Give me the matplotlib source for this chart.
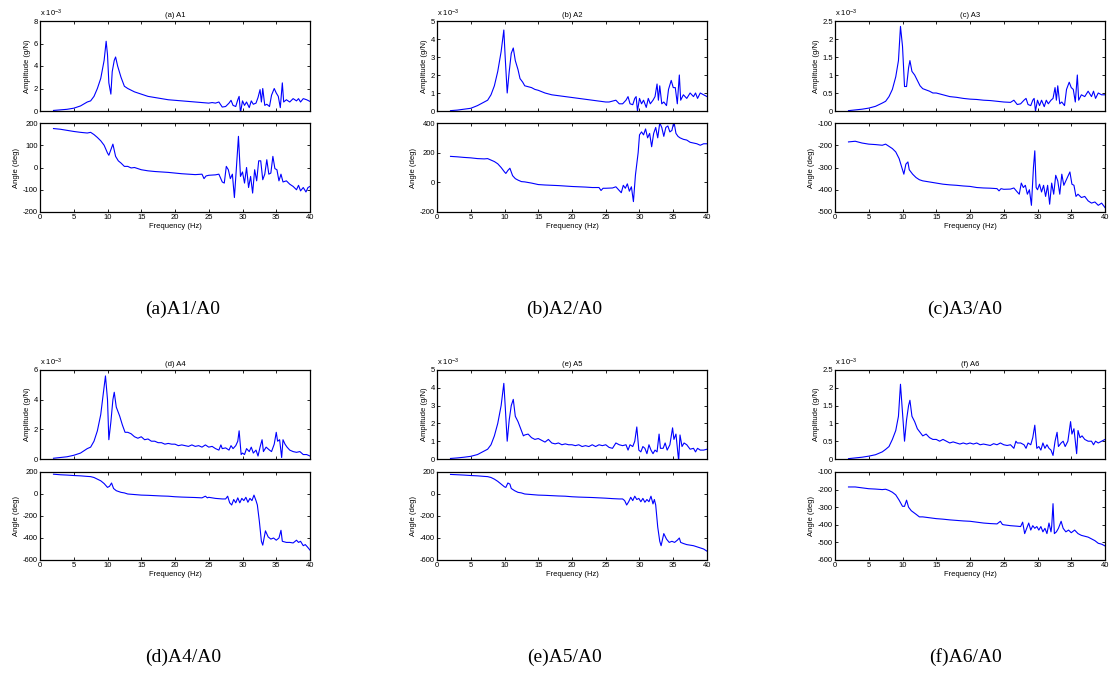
import numpy as np
import matplotlib
matplotlib.use("Agg")
import matplotlib.pyplot as plt

plt.rcParams['font.family'] = ['Liberation Sans', 'DejaVu Sans']
plt.rcParams['axes.unicode_minus'] = False
plt.rcParams['mathtext.default'] = 'regular'

# ---- data: (frequency Hz, value) ----
# amplitudes in units of 1e-3 g/N, angles in deg

a_amp = [(2, 0.05), (3, 0.1), (4, 0.15), (5, 0.25), (6, 0.45), (7, 0.8), (7.5, 0.9), (8, 1.3),
         (8.5, 2.0), (9, 2.9), (9.5, 4.5), (9.8, 6.2), (10.0, 5.0), (10.2, 2.5), (10.5, 1.5),
         (10.7, 3.5), (11.0, 4.5), (11.2, 4.8), (11.5, 4.0), (12, 3.0), (12.5, 2.2), (13, 2.0),
         (14, 1.7), (15, 1.5), (16, 1.3), (17, 1.2), (18, 1.1), (19, 1.0), (20, 0.95), (21, 0.9),
         (22, 0.85), (23, 0.8), (24, 0.75), (25, 0.7), (25.5, 0.75), (26, 0.7), (26.5, 0.8),
         (27, 0.35), (27.5, 0.4), (28, 0.7), (28.3, 0.95), (28.6, 0.5), (29, 0.4), (29.3, 1.0),
         (29.5, 1.3), (29.7, -0.15), (30, 0.9), (30.3, 0.5), (30.6, 0.8), (31, 0.3), (31.3, 0.9),
         (31.6, 0.6), (32, 0.7), (32.3, 1.2), (32.6, 1.9), (32.8, 0.8), (33, 2.0), (33.3, 0.5),
         (33.6, 0.6), (34, 0.4), (34.3, 1.4), (34.7, 2.0), (35, 1.6), (35.3, 1.3), (35.6, 0.3),
         (35.9, 2.5), (36.1, 0.8), (36.5, 1.0), (37, 0.8), (37.5, 1.1), (38, 0.9), (38.3, 1.1),
         (38.6, 0.8), (39, 1.1), (39.5, 1.0), (40, 0.85)]

a_ang = [(2, 175), (3, 172), (4, 167), (5, 162), (6, 158), (7, 155), (7.5, 158), (8, 148),
         (8.5, 135), (9, 120), (9.5, 100), (10, 65), (10.2, 55), (10.5, 80), (10.8, 105),
         (11.2, 50), (11.6, 30), (12, 20), (12.5, 5), (13, 5), (13.5, -2), (14, 0), (15, -10),
         (16, -15), (17, -18), (18, -20), (19, -22), (20, -25), (21, -28), (22, -30), (23, -32),
         (24, -30), (24.3, -50), (24.6, -38), (25, -35), (26, -33), (26.5, -30), (27, -65),
         (27.3, -70), (27.6, 5), (27.9, -10), (28.2, -50), (28.5, -30), (28.8, -135), (29.1, 0),
         (29.4, 140), (29.7, -40), (30, -20), (30.3, -70), (30.6, 0), (30.9, -90), (31.2, -40),
         (31.5, -115), (31.8, -10), (32.1, -60), (32.4, 30), (32.7, 30), (33, -55), (33.3, -30),
         (33.6, 35), (33.9, -30), (34.2, -25), (34.5, 50), (34.8, -5), (35.1, -10), (35.4, -60),
         (35.7, -30), (36, -65), (36.5, -60), (37, -75), (37.5, -85), (38, -100), (38.3, -80),
         (38.6, -105), (39, -90), (39.4, -110), (39.7, -90), (40, -85)]

b_amp = [(2, 0.02), (3, 0.05), (4, 0.1), (5, 0.15), (6, 0.3), (7, 0.5), (7.5, 0.6), (8, 0.9),
         (8.5, 1.4), (9, 2.2), (9.5, 3.3), (9.9, 4.5), (10.1, 3.0), (10.4, 1.0), (10.7, 2.2),
         (11.0, 3.2), (11.3, 3.5), (11.6, 2.8), (12, 2.3), (12.3, 1.8), (12.7, 1.6), (13, 1.4),
         (14, 1.3), (14.5, 1.2), (15, 1.15), (16, 1.0), (17, 0.9), (18, 0.85), (19, 0.8),
         (20, 0.75), (21, 0.7), (22, 0.65), (23, 0.6), (24, 0.55), (25, 0.5), (25.5, 0.5),
         (26, 0.55), (26.5, 0.6), (27, 0.4), (27.5, 0.4), (28, 0.6), (28.3, 0.8), (28.6, 0.4),
         (29, 0.35), (29.3, 0.7), (29.5, 0.8), (29.7, 0.0), (30, 0.7), (30.3, 0.4), (30.6, 0.6),
         (31, 0.2), (31.3, 0.7), (31.6, 0.4), (32, 0.6), (32.3, 0.8), (32.6, 1.5), (32.8, 0.6),
         (33, 1.4), (33.3, 0.4), (33.6, 0.5), (34, 0.3), (34.3, 1.2), (34.7, 1.7), (35, 1.3),
         (35.3, 1.3), (35.6, 0.4), (35.9, 2.0), (36.1, 0.6), (36.5, 0.9), (37, 0.7), (37.5, 1.0),
         (38, 0.8), (38.3, 1.0), (38.6, 0.7), (39, 1.0), (39.5, 0.9), (40, 0.8)]

b_ang = [(2, 175), (3, 172), (4, 168), (5, 165), (6, 160), (7, 158), (7.5, 160), (8, 150),
         (8.5, 140), (9, 125), (9.5, 100), (10, 70), (10.2, 60), (10.5, 80), (10.8, 95),
         (11.2, 45), (11.6, 25), (12, 15), (12.5, 5), (13, 3), (14, -5), (15, -15), (16, -18),
         (17, -20), (18, -22), (19, -25), (20, -28), (21, -30), (22, -32), (23, -35), (24, -35),
         (24.3, -55), (24.6, -40), (25, -40), (26, -38), (26.5, -30), (27, -55), (27.3, -70),
         (27.6, -20), (27.9, -40), (28.2, -10), (28.5, -60), (28.8, -30), (29.1, -130),
         (29.4, 50), (29.8, 200), (30, 320), (30.3, 340), (30.6, 320), (30.9, 360), (31.2, 300),
         (31.5, 330), (31.8, 240), (32.1, 330), (32.4, 370), (32.7, 300), (33, 400), (33.3, 370),
         (33.6, 310), (33.9, 370), (34.2, 380), (34.5, 340), (34.8, 350), (35.1, 410),
         (35.4, 330), (35.7, 310), (36, 300), (36.5, 290), (37, 285), (37.5, 270), (38, 265),
         (38.5, 260), (39, 250), (39.5, 260), (40, 260)]

c_amp = [(2, 0.01), (3, 0.03), (4, 0.05), (5, 0.08), (6, 0.13), (7, 0.22), (7.5, 0.27), (8, 0.4),
         (8.5, 0.6), (9, 0.95), (9.4, 1.4), (9.7, 2.35), (10.0, 1.8), (10.3, 0.68), (10.6, 0.68),
         (10.9, 1.2), (11.1, 1.4), (11.4, 1.1), (11.8, 1.0), (12.2, 0.85), (12.6, 0.7), (13, 0.62),
         (14, 0.55), (14.5, 0.5), (15, 0.5), (16, 0.45), (17, 0.4), (18, 0.38), (19, 0.35),
         (20, 0.33), (21, 0.32), (22, 0.3), (23, 0.29), (24, 0.27), (25, 0.25), (26, 0.24),
         (26.5, 0.3), (27, 0.18), (27.5, 0.2), (28, 0.3), (28.3, 0.35), (28.6, 0.18), (29, 0.15),
         (29.3, 0.3), (29.5, 0.35), (29.7, 0.0), (30, 0.3), (30.3, 0.15), (30.6, 0.3), (31, 0.12),
         (31.3, 0.3), (31.6, 0.2), (32, 0.3), (32.3, 0.35), (32.6, 0.65), (32.8, 0.3), (33, 0.7),
         (33.3, 0.2), (33.6, 0.25), (34, 0.15), (34.3, 0.6), (34.7, 0.8), (35, 0.65), (35.3, 0.6),
         (35.6, 0.25), (35.9, 1.0), (36.1, 0.3), (36.5, 0.45), (37, 0.4), (37.5, 0.55), (38, 0.4),
         (38.3, 0.55), (38.6, 0.35), (39, 0.5), (39.5, 0.45), (40, 0.45)]

c_ang = [(2, -185), (3, -182), (4, -190), (5, -195), (6, -197), (7, -200), (7.5, -195), (8, -205),
         (8.5, -215), (9, -230), (9.5, -260), (10, -310), (10.2, -330), (10.5, -285), (10.8, -275),
         (11, -310), (11.5, -330), (12, -345), (12.5, -355), (13, -360), (14, -365), (15, -370),
         (16, -375), (17, -378), (18, -380), (19, -383), (20, -385), (21, -390), (22, -392),
         (23, -393), (24, -395), (24.3, -405), (24.6, -395), (25, -398), (26, -397), (26.5, -392),
         (27, -410), (27.3, -420), (27.6, -370), (27.9, -390), (28.2, -380), (28.5, -420),
         (28.8, -400), (29.1, -470), (29.4, -300), (29.6, -225), (29.8, -390), (30, -400),
         (30.3, -375), (30.6, -410), (30.9, -380), (31.2, -430), (31.5, -380), (31.8, -465),
         (32.1, -370), (32.4, -420), (32.7, -335), (33, -360), (33.3, -420), (33.6, -330),
         (33.9, -380), (34.2, -360), (34.5, -340), (34.8, -320), (35.1, -375), (35.4, -380),
         (35.7, -430), (36, -420), (36.5, -435), (37, -430), (37.5, -450), (38, -460),
         (38.5, -455), (39, -470), (39.5, -460), (40, -480)]

d_amp = [(2, 0.05), (3, 0.1), (4, 0.15), (5, 0.25), (6, 0.4), (7, 0.7), (7.5, 0.8), (8, 1.2),
         (8.5, 1.9), (9, 3.0), (9.4, 4.5), (9.7, 5.6), (10.0, 4.0), (10.2, 1.3), (10.5, 2.5),
         (10.8, 4.0), (11.0, 4.5), (11.3, 3.5), (11.8, 2.9), (12.2, 2.3), (12.6, 1.8), (13, 1.8),
         (13.5, 1.7), (14, 1.5), (14.5, 1.4), (15, 1.5), (15.5, 1.3), (16, 1.35), (16.5, 1.2),
         (17, 1.2), (17.5, 1.1), (18, 1.1), (18.5, 1.0), (19, 1.05), (19.5, 1.0), (20, 1.0),
         (20.5, 0.9), (21, 0.95), (21.5, 0.9), (22, 0.85), (22.5, 0.95), (23, 0.85), (23.5, 0.9),
         (24, 0.8), (24.5, 0.95), (25, 0.8), (25.5, 0.85), (26, 0.7), (26.5, 0.6), (26.8, 0.95),
         (27, 0.7), (27.5, 0.75), (28, 0.6), (28.3, 0.9), (28.6, 0.7), (29, 0.9), (29.3, 1.2),
         (29.5, 1.9), (29.8, 0.3), (30, 0.4), (30.3, 0.3), (30.6, 0.7), (31, 0.5), (31.3, 0.8),
         (31.6, 0.4), (32, 0.6), (32.3, 0.2), (32.6, 0.8), (32.9, 1.3), (33.1, 0.5), (33.5, 0.8),
         (34, 0.6), (34.3, 0.5), (34.7, 1.0), (35, 1.8), (35.2, 1.2), (35.5, 1.3), (35.8, 0.1),
         (36, 1.3), (36.3, 1.0), (36.6, 0.8), (37, 0.6), (37.5, 0.5), (38, 0.45), (38.5, 0.5),
         (39, 0.3), (39.5, 0.3), (40, 0.2)]

d_ang = [(2, 180), (3, 175), (4, 172), (5, 168), (6, 165), (7, 160), (7.5, 158), (8, 150),
         (8.5, 135), (9, 120), (9.5, 95), (10, 60), (10.3, 70), (10.6, 100), (10.9, 50),
         (11.3, 30), (12, 15), (12.5, 10), (13, 0), (14, -5), (15, -10), (16, -12), (17, -15),
         (18, -18), (19, -20), (20, -25), (21, -28), (22, -30), (23, -32), (24, -35), (24.5, -20),
         (24.8, -35), (25, -30), (26, -40), (27, -45), (27.5, -45), (27.8, -20), (28.1, -80),
         (28.4, -100), (28.7, -50), (29, -80), (29.3, -35), (29.6, -80), (29.9, -40), (30.2, -60),
         (30.5, -30), (30.8, -75), (31.1, -40), (31.4, -60), (31.7, -10), (32.0, -60),
         (32.2, -100), (32.5, -250), (32.8, -430), (33.0, -465), (33.4, -335), (33.8, -390),
         (34.2, -410), (34.6, -400), (35.0, -420), (35.4, -400), (35.7, -330), (35.9, -430),
         (36.5, -440), (37, -440), (37.5, -445), (38, -420), (38.3, -440), (38.6, -430),
         (39, -470), (39.3, -460), (39.6, -480), (40, -510)]

e_amp = [(2, 0.03), (3, 0.06), (4, 0.1), (5, 0.15), (6, 0.25), (7, 0.45), (7.5, 0.55), (8, 0.8),
         (8.5, 1.3), (9, 2.0), (9.5, 3.0), (9.9, 4.25), (10.1, 3.0), (10.4, 1.0), (10.7, 2.2),
         (11.0, 3.0), (11.3, 3.35), (11.6, 2.4), (12, 2.1), (12.4, 1.7), (12.8, 1.3), (13, 1.35),
         (13.5, 1.4), (14, 1.2), (14.5, 1.1), (15, 1.15), (15.5, 1.05), (16, 0.95), (16.5, 1.1),
         (17, 0.9), (17.5, 0.85), (18, 0.9), (18.5, 0.8), (19, 0.85), (19.5, 0.8), (20, 0.8),
         (20.5, 0.75), (21, 0.8), (21.5, 0.7), (22, 0.75), (22.5, 0.7), (23, 0.8), (23.5, 0.7),
         (24, 0.8), (24.5, 0.75), (25, 0.8), (25.5, 0.65), (26, 0.6), (26.5, 0.9), (27, 0.8),
         (27.5, 0.75), (28, 0.8), (28.3, 0.5), (28.6, 0.8), (29, 0.7), (29.3, 1.0), (29.6, 1.8),
         (29.9, 0.5), (30.2, 0.4), (30.5, 0.7), (30.8, 0.6), (31.1, 0.3), (31.4, 0.8), (31.7, 0.5),
         (32, 0.3), (32.3, 0.5), (32.6, 0.4), (32.9, 1.4), (33.1, 0.6), (33.5, 0.6), (33.8, 0.9),
         (34.1, 0.5), (34.5, 0.8), (34.9, 1.75), (35.1, 1.1), (35.4, 1.4), (35.8, -0.1),
         (36, 1.35), (36.3, 0.7), (36.6, 0.9), (37, 0.8), (37.5, 0.55), (38, 0.6), (38.3, 0.4),
         (38.6, 0.6), (39, 0.5), (39.5, 0.5), (40, 0.55)]

e_ang = [(2, 178), (3, 175), (4, 172), (5, 168), (6, 165), (7, 160), (7.5, 158), (8, 150),
         (8.5, 135), (9, 115), (9.5, 90), (10, 65), (10.2, 60), (10.5, 100), (10.8, 90), (11, 50),
         (11.5, 30), (12, 15), (12.5, 10), (13, 0), (14, -5), (15, -10), (16, -12), (17, -15),
         (18, -18), (19, -20), (20, -25), (21, -28), (22, -30), (23, -32), (24, -35), (25, -38),
         (26, -42), (27, -45), (27.5, -45), (27.8, -60), (28.1, -100), (28.4, -70), (28.7, -30),
         (29, -60), (29.3, -20), (29.6, -50), (29.9, -40), (30.2, -70), (30.5, -40), (30.8, -75),
         (31.1, -50), (31.4, -70), (31.7, -20), (32, -90), (32.2, -50), (32.4, -100),
         (32.7, -300), (33.0, -430), (33.2, -470), (33.6, -360), (34, -410), (34.4, -440),
         (34.8, -430), (35.2, -440), (35.6, -420), (35.9, -400), (36.1, -440), (36.5, -450),
         (37, -460), (37.5, -465), (38, -470), (38.5, -480), (39, -490), (39.5, -500), (40, -520)]

f_amp = [(2, 0.01), (3, 0.03), (4, 0.05), (5, 0.08), (6, 0.12), (7, 0.2), (7.5, 0.27), (8, 0.35),
         (8.5, 0.55), (9, 0.8), (9.4, 1.2), (9.7, 2.1), (10.0, 1.3), (10.3, 0.5), (10.6, 1.1),
         (10.9, 1.5), (11.1, 1.65), (11.4, 1.2), (11.8, 1.05), (12.2, 0.85), (12.6, 0.75),
         (13, 0.65), (13.5, 0.7), (14, 0.6), (14.5, 0.55), (15, 0.55), (15.5, 0.5), (16, 0.55),
         (16.5, 0.5), (17, 0.45), (17.5, 0.48), (18, 0.45), (18.5, 0.42), (19, 0.45), (19.5, 0.42),
         (20, 0.45), (20.5, 0.42), (21, 0.45), (21.5, 0.4), (22, 0.42), (22.5, 0.4), (23, 0.38),
         (23.5, 0.43), (24, 0.4), (24.5, 0.45), (25, 0.4), (25.5, 0.38), (26, 0.4), (26.5, 0.3),
         (26.8, 0.5), (27, 0.45), (27.5, 0.45), (28, 0.4), (28.3, 0.3), (28.6, 0.45), (29, 0.4),
         (29.3, 0.6), (29.6, 0.95), (29.9, 0.3), (30.2, 0.35), (30.5, 0.25), (30.8, 0.45),
         (31.1, 0.3), (31.4, 0.4), (31.7, 0.3), (32, 0.25), (32.3, 0.1), (32.6, 0.5), (32.9, 0.75),
         (33.1, 0.35), (33.5, 0.45), (33.8, 0.5), (34.1, 0.35), (34.5, 0.5), (34.9, 1.05),
         (35.1, 0.7), (35.4, 0.85), (35.8, 0.15), (36, 0.8), (36.3, 0.6), (36.6, 0.65), (37, 0.55),
         (37.5, 0.5), (38, 0.5), (38.3, 0.4), (38.6, 0.5), (39, 0.45), (39.5, 0.5), (40, 0.55)]

f_ang = [(2, -185), (3, -185), (4, -190), (5, -195), (6, -197), (7, -200), (7.5, -198), (8, -205),
         (8.5, -215), (9, -230), (9.5, -260), (10, -295), (10.3, -295), (10.6, -260), (10.9, -300),
         (11.3, -320), (12, -340), (12.5, -355), (13, -355), (14, -360), (15, -365), (16, -368),
         (17, -372), (18, -375), (19, -378), (20, -380), (21, -385), (22, -390), (23, -393),
         (24, -395), (24.5, -380), (24.8, -398), (25, -400), (26, -405), (27, -408), (27.5, -410),
         (27.8, -385), (28.1, -450), (28.4, -420), (28.7, -390), (29, -430), (29.3, -405),
         (29.6, -420), (29.9, -410), (30.2, -430), (30.5, -410), (30.8, -440), (31.1, -420),
         (31.4, -450), (31.7, -390), (32.0, -440), (32.1, -410), (32.3, -280), (32.5, -450),
         (32.8, -440), (33.1, -420), (33.5, -380), (33.8, -420), (34.2, -440), (34.6, -430),
         (35, -445), (35.5, -430), (36, -450), (36.5, -460), (37, -465), (37.5, -470), (38, -480),
         (38.5, -490), (39, -505), (39.5, -510), (40, -520)]

titles = ['(a) A1', '(b) A2', '(c) A3', '(d) A4', '(e) A5', '(f) A6']
captions = ['(a)A1/A0', '(b)A2/A0', '(c)A3/A0', '(d)A4/A0', '(e)A5/A0', '(f)A6/A0']
amp_data = [a_amp, b_amp, c_amp, d_amp, e_amp, f_amp]
ang_data = [a_ang, b_ang, c_ang, d_ang, e_ang, f_ang]
amp_ticks = [[0, 2, 4, 6, 8], [0, 1, 2, 3, 4, 5], [0, 0.5, 1, 1.5, 2, 2.5],
             [0, 2, 4, 6], [0, 1, 2, 3, 4, 5], [0, 0.5, 1, 1.5, 2, 2.5]]
ang_ticks = [[-200, -100, 0, 100, 200], [-200, 0, 200, 400], [-500, -400, -300, -200, -100],
             [-600, -400, -200, 0, 200], [-600, -400, -200, 0, 200],
             [-600, -500, -400, -300, -200, -100]]

W, H = 1110, 675
fig = plt.figure(figsize=(W / 100, H / 100), dpi=100)

lefts = [40, 437, 835]
cap_x = [183, 564, 965]
# (amp top, amp bottom, phase top, phase bottom, caption y) in px, per row
rows = [(21, 111, 123, 212, 309), (370, 459, 472, 560, 657)]
fs = 5.5


def style(ax):
    ax.tick_params(direction='in', length=2.5, width=0.6, labelsize=fs, pad=1.5,
                   top=True, right=True)
    for s in ax.spines.values():
        s.set_linewidth(0.9)
    ax.set_xlim(0, 40)
    ax.set_xticks(range(0, 41, 5))


for i in range(6):
    r, c = divmod(i, 3)
    at, ab, pt, pb, cy = rows[r]
    x0 = lefts[c] / W
    w = 270 / W
    ax1 = fig.add_axes([x0, 1 - ab / H, w, (ab - at) / H])
    ax2 = fig.add_axes([x0, 1 - pb / H, w, (pb - pt) / H])

    # amplitude
    f1, v1 = zip(*amp_data[i])
    ax1.plot(f1, v1, color='#0000ff', lw=0.8)
    style(ax1)
    ax1.set_xticklabels([])
    ax1.set_yticks(amp_ticks[i])
    ax1.set_yticklabels(['%g' % t for t in amp_ticks[i]])
    ax1.set_ylim(amp_ticks[i][0], amp_ticks[i][-1])
    ax1.set_ylabel('Amplitude (g/N)', fontsize=fs, labelpad=2)
    ax1.set_title(titles[i], fontsize=fs, pad=3)
    ax1.text(0.0, 1.02, r'x 10$^{-3}$', transform=ax1.transAxes, fontsize=fs,
             ha='left', va='bottom')

    # phase
    f2, v2 = zip(*ang_data[i])
    ax2.plot(f2, v2, color='#0000ff', lw=0.8)
    style(ax2)
    ax2.set_yticks(ang_ticks[i])
    ax2.set_ylim(ang_ticks[i][0], ang_ticks[i][-1])
    ax2.set_ylabel('Angle (deg)', fontsize=fs, labelpad=2)
    ax2.set_xlabel('Frequency (Hz)', fontsize=fs, labelpad=1.5)

    fig.text(cap_x[c] / W, 1 - cy / H, captions[i], fontsize=14,
             family=['Liberation Serif', 'DejaVu Serif'], ha='center', va='center')

fig.savefig('out.png', dpi=100)
